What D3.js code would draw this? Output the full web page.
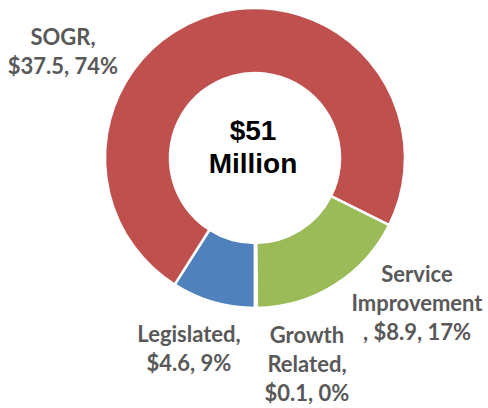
<!DOCTYPE html>
<html>
<head>
<meta charset="utf-8">
<script src="https://cdn.jsdelivr.net/npm/d3@7"></script>
<style>
  html, body { margin: 0; padding: 0; background: #fff; }
  svg { display: block; }
</style>
</head>
<body>
<svg id="chart" width="488" height="408"></svg>
<script>
// Capital spending by category ($ millions)
const categories = ["Legislated", "SOGR", "Service Improvement", "Growth Related"];
const values = [4.6, 37.5, 8.9, 0.1];
const percents = ["9%", "74%", "17%", "0%"];
const colors = ["#4F81BD", "#C0504D", "#9BBB59", "#9BBB59"];
const centerLines = ["$51", "Million"];

// Label text lines per category (Excel-style wrapped labels)
const labelLines = [
  ["Legislated,", "$4.6, 9%"],
  ["SOGR,", "$37.5, 74%"],
  ["Service", "Improvement", ", $8.9, 17%"],
  ["Growth", "Related,", "$0.1, 0%"]
];
// Label block centres (first baseline) in chart space
const labelAnchor = [
  [189, 342],
  [63, 45],
  [417, 282],
  [307, 343]
];

const W = 488, H = 408;
const cx = 255, cy = 158;
const outerR = 150, innerR = 85;

const svg = d3.select("#chart");
const g = svg.append("g").attr("transform", `translate(${cx},${cy})`);

const pie = d3.pie()
  .sort(null)
  .value(d => d)
  .startAngle(Math.PI)
  .endAngle(3 * Math.PI);

const arc = d3.arc().innerRadius(innerR).outerRadius(outerR);

g.selectAll("path.slice")
  .data(pie(values))
  .join("path")
  .attr("class", "slice")
  .attr("d", arc)
  .attr("fill", (d, i) => colors[i])
  .attr("stroke", "#fff")
  .attr("stroke-width", 2.5)
  .attr("stroke-linejoin", "miter");

// Centre total
const ct = g.append("text")
  .attr("text-anchor", "middle")
  .attr("font-family", "Liberation Sans, Arial, sans-serif")
  .attr("font-weight", "bold")
  .attr("font-size", 28)
  .attr("fill", "#000");
ct.selectAll("tspan")
  .data(centerLines)
  .join("tspan")
  .attr("x", -2)
  .attr("y", (d, i) => -18 + i * 33)
  .text(d => d);

// Category labels
const lineH = 29;
const labels = svg.append("g")
  .attr("font-family", "Lato, 'Open Sans', sans-serif")
  .attr("font-weight", "bold")
  .attr("font-size", 22)
  .attr("fill", "#595959")
  .attr("text-anchor", "middle");

labels.selectAll("text")
  .data(categories)
  .join("text")
  .each(function (d, i) {
    d3.select(this).selectAll("tspan")
      .data(labelLines[i])
      .join("tspan")
      .attr("x", labelAnchor[i][0])
      .attr("y", (t, j) => labelAnchor[i][1] + j * lineH)
      .text(t => t);
  });
</script>
</body>
</html>
